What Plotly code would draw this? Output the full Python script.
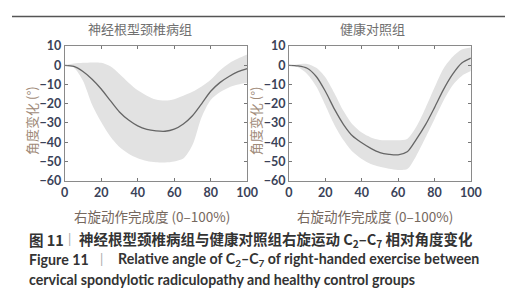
import plotly.graph_objects as go

# ---------------- data ----------------
progress = [0, 5, 10, 15, 20, 25, 30, 35, 40, 45, 50, 55, 60, 65, 70, 75, 80, 85, 90, 95, 100]

csr_mean = [0, -0.6, -3.2, -7.2, -12.3, -18.4, -24.3, -28.5, -31.5, -33.3, -34.1,
            -34.3, -33.2, -30.5, -26.2, -20, -13.5, -9, -5.8, -3.3, -1.7]
csr_upper = [0, 0.9, 1.3, 1.5, 1.3, -0.5, -4.5, -9, -13, -15.8, -17.8,
             -18.3, -17.6, -15.8, -13.8, -11, -7.5, -2.7, 1, 3.5, 5.6]
csr_lower = [0, -1.3, -8, -20.5, -29.5, -37, -42.5, -46, -48.3, -49.8, -50.4,
             -50.5, -50, -48.5, -41.5, -27, -18, -14, -11.5, -10, -9]

ctl_mean = [0, -0.3, -1.5, -5.8, -13.5, -22.8, -30.8, -36.8, -40.3, -43.2, -45.4,
            -46.3, -46.6, -45, -38.5, -31, -22, -12.5, -4.6, 1.2, 3.8]
ctl_upper = [0, 0.6, 0.7, -1.3, -6.2, -14.5, -23.8, -30.8, -35, -37.5, -38.8,
             -39, -39, -38.3, -32, -22.3, -11.5, -1.6, 4.5, 8.2, 9.3]
ctl_lower = [0, -1, -4.5, -11, -20.8, -31, -39, -45, -48.7, -51.3, -52.8,
             -53.8, -54.4, -54, -47, -37.7, -28, -18.3, -10.3, -5.5, -3]

panel_titles = ["神经根型颈椎病组", "健康对照组"]
y_title = "角度变化 (°)"
x_title = "右旋动作完成度 (0–100%)"
x_ticks = [0, 20, 40, 60, 80, 100]
y_ticks = [-60, -50, -40, -30, -20, -10, 0, 10]

W, H = 513, 300
def px(x):
    return x / W
def py(y):
    return 1 - y / H

BAND = "#e2e2e2"
LINE = "#666666"

fig = go.Figure()

groups = [(csr_mean, csr_upper, csr_lower, "x", "y"),
          (ctl_mean, ctl_upper, ctl_lower, "x2", "y2")]
for mean, up, lo, xa, ya in groups:
    fig.add_trace(go.Scatter(x=progress, y=lo, mode="lines", line=dict(width=0, color=BAND, shape="spline", smoothing=0.8),
                             xaxis=xa, yaxis=ya, showlegend=False, hoverinfo="skip"))
    fig.add_trace(go.Scatter(x=progress, y=up, mode="lines", fill="tonexty", fillcolor=BAND,
                             line=dict(width=0, color=BAND, shape="spline", smoothing=0.8),
                             xaxis=xa, yaxis=ya, showlegend=False, hoverinfo="skip"))
    fig.add_trace(go.Scatter(x=progress, y=mean, mode="lines",
                             line=dict(width=1.3, color=LINE, shape="spline", smoothing=0.8),
                             xaxis=xa, yaxis=ya, showlegend=False))

tickfont = dict(family="Lato, Open Sans, sans-serif", size=12.5, color="#3a4258", weight="bold")
common_x = dict(range=[0, 100], tickvals=x_ticks, showline=True, mirror="ticks", linecolor="#8a8a8a",
                linewidth=1, ticks="inside", ticklen=3, tickcolor="#777", showgrid=False, zeroline=False,
                tickfont=tickfont, fixedrange=True)
common_y = dict(range=[-60, 10], tickvals=y_ticks, showline=True, mirror="ticks", linecolor="#8a8a8a",
                linewidth=1, ticks="inside", ticklen=3, tickcolor="#777", showgrid=False, zeroline=False,
                tickfont=tickfont, fixedrange=True)

ydom = [py(173.3), py(31.7)]
fig.update_layout(
    width=W, height=H, margin=dict(l=0, r=0, t=0, b=0),
    paper_bgcolor="white", plot_bgcolor="white",
    xaxis=dict(domain=[px(54.3), px(242.3)], anchor="y", **common_x),
    yaxis=dict(domain=ydom, anchor="x", **common_y),
    xaxis2=dict(domain=[px(285.3), px(472.7)], anchor="y2", **common_x),
    yaxis2=dict(domain=ydom, anchor="x2", **common_y),
)

ann = []
cjk = "Noto Sans CJK SC, sans-serif"
# panel titles
for t, cx in zip(panel_titles, [132, 371]):
    ann.append(dict(text=t, x=px(cx), y=py(13), xref="paper", yref="paper", showarrow=False,
                    xanchor="center", yanchor="middle", font=dict(family=cjk, size=13, color="#707070")))
# y titles
for cx in [20, 251]:
    ann.append(dict(text=y_title, x=px(cx), y=py(110), xref="paper", yref="paper", showarrow=False,
                    textangle=-90, xanchor="center", yanchor="middle",
                    font=dict(family=cjk, size=13, color="#a08a78")))
# x titles
for cx in [144, 374]:
    ann.append(dict(text=x_title, x=px(cx), y=py(210), xref="paper", yref="paper", showarrow=False,
                    xanchor="center", yanchor="middle", font=dict(family=cjk, size=13.5, color="#76685e")))

# caption
cap_font_cn = dict(family=cjk, size=14.5, color="#333333", weight="bold")
cap_font_en = dict(family="Lato, Open Sans, sans-serif", size=14.2, color="#333333", weight="bold")
bar_font = dict(family="Lato, sans-serif", size=13, color="#aaaaaa")
ann.append(dict(text="图 11", x=px(15), y=py(235), xref="paper", yref="paper", showarrow=False,
                xanchor="left", yanchor="middle", font=cap_font_cn))
ann.append(dict(text="|", x=px(59), y=py(235), xref="paper", yref="paper", showarrow=False,
                xanchor="center", yanchor="middle", font=bar_font))
ann.append(dict(text="神经根型颈椎病组与健康对照组右旋运动 C<sub>2</sub>–C<sub>7</sub> 相对角度变化",
                x=px(67), y=py(235), xref="paper", yref="paper", showarrow=False,
                xanchor="left", yanchor="middle", font=cap_font_cn))
ann.append(dict(text="Figure 11", x=px(15), y=py(256), xref="paper", yref="paper", showarrow=False,
                xanchor="left", yanchor="middle", font=cap_font_en))
ann.append(dict(text="|", x=px(92), y=py(256), xref="paper", yref="paper", showarrow=False,
                xanchor="center", yanchor="middle", font=bar_font))
ann.append(dict(text="Relative angle of C<sub>2</sub>–C<sub>7</sub> of right-handed exercise between",
                x=px(107), y=py(256), xref="paper", yref="paper", showarrow=False,
                xanchor="left", yanchor="middle", font=cap_font_en))
ann.append(dict(text="cervical spondylotic radiculopathy and healthy control groups",
                x=px(15), y=py(277), xref="paper", yref="paper", showarrow=False,
                xanchor="left", yanchor="middle", font=cap_font_en))

fig.update_layout(annotations=ann)
fig.add_shape(type="line", xref="paper", yref="paper", x0=0, x1=1, y0=py(0.5), y1=py(0.5),
              line=dict(color="#555555", width=1.5))

fig.write_html("out.html")
